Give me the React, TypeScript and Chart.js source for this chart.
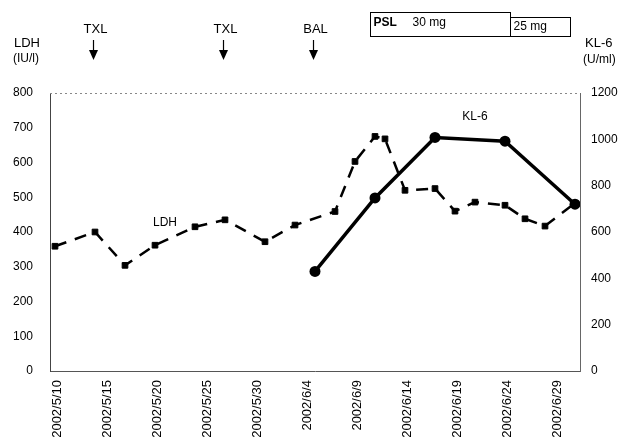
import React, { useEffect, useRef } from 'react';
import { Chart, registerables } from 'chart.js';

Chart.register(...registerables);

const FONT = '"Liberation Sans", Arial, sans-serif';

// X axis tick labels (every 5 days)
const tickDates = ['2002/5/10', '2002/5/15', '2002/5/20', '2002/5/25', '2002/5/30', '2002/6/4', '2002/6/9', '2002/6/14', '2002/6/19', '2002/6/24', '2002/6/29'];
const axisStart = '2002/5/10';
const axisEnd = '2002/7/1';

// LDH (IU/l) - left axis
const ldhDates = ['2002/5/10', '2002/5/14', '2002/5/17', '2002/5/20', '2002/5/24', '2002/5/27', '2002/5/31', '2002/6/3', '2002/6/7', '2002/6/9', '2002/6/11', '2002/6/12', '2002/6/14', '2002/6/17', '2002/6/19', '2002/6/21', '2002/6/24', '2002/6/26', '2002/6/28', '2002/7/1'];
const ldhValues = [359, 400, 304, 362, 415, 435, 372, 420, 459, 603, 675, 668, 520, 525, 460, 486, 477, 438, 417, 483];

// KL-6 (U/ml) - right axis
const kl6Dates = ['2002/6/5', '2002/6/11', '2002/6/17', '2002/6/24', '2002/7/1'];
const kl6Values = [430, 747, 1008, 992, 720];

// Events (arrows)
const eventLabels = ['TXL', 'TXL', 'BAL'];
const eventDates = ['2002/5/14', '2002/5/27', '2002/6/5'];

// PSL dosing bars
const pslLabels = ['30 mg', '25 mg'];
const pslFrom = ['2002/6/11', '2002/6/25'];
const pslTo = ['2002/6/25', '2002/7/1'];

// In-plot series labels
const ldhLabelDate = '2002/5/21';
const ldhLabelValue = 428;
const kl6LabelDate = '2002/6/21';
const kl6LabelValue = 1096;

function dayOf(s: string): number {
  const [y, m, d] = s.split('/').map(Number);
  const [y0, m0, d0] = axisStart.split('/').map(Number);
  return (Date.UTC(y, m - 1, d) - Date.UTC(y0, m0 - 1, d0)) / 86400000;
}

const tickDays = tickDates.map(dayOf);

const annotPlugin = {
  id: 'annot',
  afterDraw(chart: any) {
    const { ctx, chartArea: ca, scales } = chart;
    const x = scales.x;
    const y = scales.y;
    const y1 = scales.y1;
    ctx.save();
    // dotted top border
    ctx.strokeStyle = '#888';
    ctx.lineWidth = 1;
    ctx.setLineDash([2, 3]);
    ctx.beginPath();
    ctx.moveTo(ca.left, Math.round(ca.top) + 0.5);
    ctx.lineTo(ca.right, Math.round(ca.top) + 0.5);
    ctx.stroke();
    ctx.setLineDash([]);

    ctx.fillStyle = '#000';
    ctx.textBaseline = 'middle';
    ctx.textAlign = 'left';
    ctx.font = '13px ' + FONT;
    ctx.fillText('LDH', 14, 43);
    ctx.font = '12px ' + FONT;
    ctx.fillText('(IU/l)', 13, 59);
    ctx.font = '13px ' + FONT;
    ctx.fillText('KL-6', 585, 43);
    ctx.font = '12px ' + FONT;
    ctx.fillText('(U/ml)', 583, 60);

    // event arrows
    eventLabels.forEach((lab, i) => {
      const px = Math.round(x.getPixelForValue(dayOf(eventDates[i]))) - 1.5;
      ctx.font = '13px ' + FONT;
      ctx.textAlign = 'center';
      ctx.fillText(lab, px + 2, 29);
      ctx.strokeStyle = '#000';
      ctx.lineWidth = 1.2;
      ctx.beginPath();
      ctx.moveTo(px, 40);
      ctx.lineTo(px, 51);
      ctx.stroke();
      ctx.beginPath();
      ctx.moveTo(px - 4.5, 50);
      ctx.lineTo(px + 4.5, 50);
      ctx.lineTo(px, 60);
      ctx.closePath();
      ctx.fill();
    });

    // PSL boxes
    ctx.strokeStyle = '#000';
    ctx.lineWidth = 1;
    ctx.textAlign = 'left';
    pslLabels.forEach((lab, i) => {
      const x0 = Math.round(x.getPixelForValue(dayOf(pslFrom[i]) - 0.5)) + 0.5;
      const x1 = Math.round(x.getPixelForValue(dayOf(pslTo[i]) - 0.5)) + 0.5;
      const top = i === 0 ? 12.5 : 17.5;
      ctx.strokeRect(x0, top, x1 - x0, 36.5 - top);
      if (i === 0) {
        ctx.font = 'bold 12px ' + FONT;
        ctx.fillText('PSL', x0 + 3, 23);
        ctx.font = '12px ' + FONT;
        ctx.fillText(lab, x0 + 42, 23);
      } else {
        ctx.font = '12px ' + FONT;
        ctx.fillText(lab, x0 + 3, 27);
      }
    });

    // inline labels
    ctx.font = '12px ' + FONT;
    ctx.textAlign = 'center';
    ctx.fillText('LDH', x.getPixelForValue(dayOf(ldhLabelDate)), y.getPixelForValue(ldhLabelValue));
    ctx.fillText('KL-6', x.getPixelForValue(dayOf(kl6LabelDate)), y1.getPixelForValue(kl6LabelValue));
    ctx.restore();
  },
};

export default function App() {
  const ref = useRef<HTMLCanvasElement>(null);
  useEffect(() => {
    if (!ref.current) return;
    const chart = new Chart(ref.current, {
      type: 'line',
      data: {
        datasets: [
          {
            label: 'KL-6',
            data: kl6Dates.map((d, i) => ({ x: dayOf(d), y: kl6Values[i] })),
            yAxisID: 'y1',
            borderColor: '#000',
            backgroundColor: '#000',
            borderWidth: 3.5,
            pointStyle: 'circle',
            pointRadius: 5.5,
            pointBorderWidth: 0,
            order: 0,
          },
          {
            label: 'LDH',
            data: ldhDates.map((d, i) => ({ x: dayOf(d), y: ldhValues[i] })),
            yAxisID: 'y',
            borderColor: '#000',
            backgroundColor: '#000',
            borderWidth: 2.5,
            borderDash: [12, 9],
            pointStyle: 'rect',
            pointRadius: 4,
            pointBorderWidth: 1,
            order: 1,
          },
        ],
      },
      options: {
        animation: false,
        responsive: true,
        maintainAspectRatio: false,
        layout: { padding: { top: 93, left: 0, right: 0, bottom: 0 } },
        plugins: { legend: { display: false }, tooltip: { enabled: false } },
        scales: {
          x: {
            type: 'linear',
            min: dayOf(axisStart) - 0.5,
            max: dayOf(axisEnd) + 0.5,
            afterBuildTicks: (scale: any) => {
              scale.ticks = tickDays.map((v) => ({ value: v }));
            },
            afterFit: (scale: any) => {
              scale.height = 71;
            },
            grid: { display: false, drawTicks: false },
            border: { display: true, color: '#555', width: 1 },
            ticks: {
              autoSkip: false,
              minRotation: 90,
              maxRotation: 90,
              padding: 9,
              labelOffset: 2,
              color: '#000',
              font: { family: FONT, size: 13 },
              callback: (v: any) => {
                const idx = tickDays.indexOf(Number(v));
                return idx >= 0 ? tickDates[idx] : '';
              },
            },
          },
          y: {
            type: 'linear',
            position: 'left',
            min: 0,
            max: 800,
            afterFit: (scale: any) => {
              scale.width = 50;
            },
            grid: { display: false, drawTicks: false },
            border: { display: true, color: '#444', width: 1 },
            ticks: {
              stepSize: 100,
              padding: 17,
              color: '#000',
              font: { family: FONT, size: 12 },
              callback: (v: any) => String(v),
            },
          },
          y1: {
            type: 'linear',
            position: 'right',
            min: 0,
            max: 1200,
            afterFit: (scale: any) => {
              scale.width = 50;
            },
            grid: { display: false, drawTicks: false },
            border: { display: true, color: '#666', width: 1 },
            ticks: {
              stepSize: 200,
              padding: 11,
              color: '#000',
              font: { family: FONT, size: 12 },
              callback: (v: any) => String(v),
            },
          },
        },
      },
      plugins: [annotPlugin],
    } as any);
    return () => chart.destroy();
  }, []);
  return (
    <div style={{ position: 'fixed', left: 0, top: 0, width: 630, height: 442, background: '#fff' }}>
      <canvas ref={ref} />
    </div>
  );
}
